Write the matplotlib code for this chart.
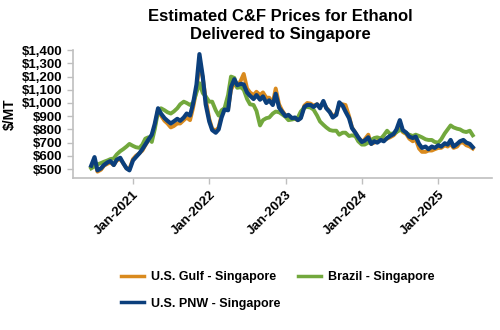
import matplotlib
matplotlib.use("Agg")
import matplotlib.pyplot as plt
import matplotlib.dates as mdates
from matplotlib.ticker import FuncFormatter
import pandas as pd

plt.rcParams['font.family'] = ['Liberation Sans', 'DejaVu Sans']
plt.rcParams['font.weight'] = 'bold'

# semi-monthly observations, mid-June 2020 to mid-June 2025
dates = pd.date_range('2020-06-15', periods=121, freq='SMS-15')

gulf = [515, 570, 480, 495, 525, 540, 550, 530, 565, 575, 545, 505, 500, 575, 600, 620,
        640, 680, 715, 750, 820, 950, 905, 865, 845, 815, 825, 845, 845, 870, 890, 870,
        960, 1100, 1300, 1190, 1030, 880, 805, 790, 815, 910, 960, 955, 1100, 1150, 1120, 1170,
        1220, 1110, 1080, 1060, 1085, 1060, 1080, 1040, 1040, 1000, 1110, 990, 945, 905, 900, 885,
        880, 870, 890, 980, 1000, 995, 980, 990, 970, 1005, 965, 935, 895, 920, 985, 990,
        985, 900, 815, 775, 740, 705, 725, 760, 690, 700, 710, 730, 720, 730, 740, 755,
        780, 830, 780, 765, 730, 710, 725, 655, 630, 630, 640, 640, 650, 660, 660, 680,
        670, 690, 660, 670, 700, 700, 680, 670, 655]

brazil = [505, 520, 535, 545, 555, 565, 575, 580, 610, 635, 650, 670, 690, 675, 665, 660,
          685, 730, 740, 705, 800, 935, 960, 945, 930, 920, 935, 960, 990, 1010, 1000, 985,
          1000, 1080, 1150, 1075, 1050, 1010, 1010, 945, 905, 945, 960, 1060, 1200, 1190, 1115, 1120,
          1100, 1030, 990, 985, 940, 830, 870, 885, 890, 920, 935, 930, 915, 895, 870, 875,
          880, 890, 935, 965, 970, 965, 950, 905, 860, 835, 815, 795, 790, 790, 760, 775,
          775, 750, 755, 750, 710, 685, 685, 700, 720, 735, 740, 730, 755, 790, 765, 770,
          780, 795, 790, 770, 760, 750, 760, 750, 740, 725, 720, 720, 705, 700, 725, 770,
          800, 830, 815, 805, 800, 785, 780, 790, 755]

pnw = [525, 590, 490, 505, 530, 550, 560, 530, 570, 585, 545, 505, 490, 565, 590, 620,
       650, 685, 720, 760, 840, 960, 920, 885, 865, 845, 860, 880, 865, 890, 920, 905,
       990, 1140, 1370, 1200, 990, 860, 795, 775, 800, 890, 950, 945, 1120, 1180, 1135, 1145,
       1140, 1080, 1055, 1030, 1060, 1025, 1050, 1000, 1020, 985, 1070, 965, 935, 900, 910, 885,
       890, 870, 885, 970, 985, 985, 970, 990, 960, 1015, 960, 930, 890, 910, 1005, 980,
       935, 885, 810, 775, 740, 705, 715, 740, 690, 710, 700, 720, 710, 735, 750, 765,
       800, 870, 795, 775, 745, 735, 745, 690, 660, 670, 650, 670, 660, 680, 670, 695,
       685, 720, 670, 690, 710, 720, 700, 690, 665]

series = [
    ('U.S. Gulf - Singapore', gulf, '#D98A1E', 2.8),
    ('Brazil - Singapore', brazil, '#72A83D', 2.8),
    ('U.S. PNW - Singapore', pnw, '#0B3F7C', 3.0),
]

fig = plt.figure(figsize=(5, 3.3), dpi=100)
ax = fig.add_axes([0.146, 0.4606, 0.838, 0.3874])

lines = {}
for name, vals, color, lw in series:
    lines[name], = ax.plot(dates, vals, color=color, linewidth=lw, label=name,
                           solid_joinstyle='round')

ax.set_ylim(432, 1400)
ax.set_yticks(range(500, 1401, 100))
ax.yaxis.set_major_formatter(FuncFormatter(lambda v, _: f'${v:,.0f}'))
ax.set_xlim(pd.Timestamp('2020-03-20'), pd.Timestamp('2025-09-15'))
ax.xaxis.set_major_locator(mdates.YearLocator())
ax.xaxis.set_major_formatter(mdates.DateFormatter('Jan-%Y'))

for s in ['top', 'right']:
    ax.spines[s].set_visible(False)
for s in ['left', 'bottom']:
    ax.spines[s].set_color('#BFBFBF')
    ax.spines[s].set_linewidth(1.2)
ax.tick_params(axis='both', colors='#BFBFBF', labelcolor='black', labelsize=9.5,
               length=4, width=1)
for lab in ax.get_xticklabels():
    lab.set_rotation(45)
    lab.set_ha('right')
    lab.set_rotation_mode('anchor')
    lab.set_fontweight('bold')
for lab in ax.get_yticklabels():
    lab.set_fontweight('bold')

ax.set_ylabel('$/MT', fontsize=10, fontweight='bold', labelpad=4)
fig.text(0.56, 0.972, 'Estimated C&F Prices for Ethanol\nDelivered to Singapore',
         ha='center', va='top', fontsize=12, fontweight='bold', linespacing=1.2)

# legend fills column by column: Gulf / PNW on the left, Brazil on the right
order = ['U.S. Gulf - Singapore', 'U.S. PNW - Singapore', 'Brazil - Singapore']
handles = [lines[n] for n in order]
leg = fig.legend(handles, order, ncol=2,
                 loc='upper left', bbox_to_anchor=(0.22, 0.212), frameon=False,
                 prop={'size': 9, 'weight': 'bold'}, handlelength=1.8,
                 columnspacing=1.4, labelspacing=1.15, handletextpad=0.6)
for h in leg.get_lines():
    h.set_linewidth(2.5)

fig.savefig('out.png', dpi=100)
